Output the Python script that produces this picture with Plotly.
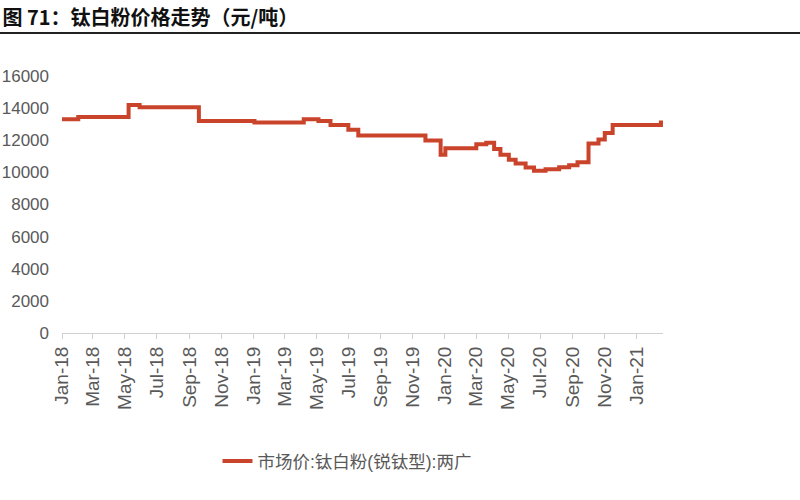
import plotly.graph_objects as go

# Change points of the step series (date, price in 元/吨)
dates = [
    "2018-01-01", "2018-02-01", "2018-05-08", "2018-05-29", "2018-09-19",
    "2019-01-03", "2019-04-07", "2019-05-05", "2019-05-28", "2019-07-01",
    "2019-07-20", "2019-11-25", "2019-12-24", "2020-01-02", "2020-03-01",
    "2020-03-20", "2020-04-04", "2020-04-16", "2020-05-02", "2020-05-15",
    "2020-06-03", "2020-06-19", "2020-07-11", "2020-08-06", "2020-08-25",
    "2020-09-10", "2020-10-01", "2020-10-20", "2020-11-01", "2020-11-16",
    "2021-02-16", "2021-02-20",
]
prices = [
    13300, 13450, 14200, 14050, 13200,
    13100, 13300, 13200, 12950, 12650,
    12300, 11980, 11100, 11500, 11750,
    11850, 11450, 11100, 10780, 10560,
    10300, 10100, 10200, 10320, 10440,
    10630, 11800, 12050, 12450, 12950,
    13100, 13150,
]
series_name = "市场价:钛白粉(锐钛型):两广"
title_text = "图 71：钛白粉价格走势（元/吨）"
y_ticks = [0, 2000, 4000, 6000, 8000, 10000, 12000, 14000, 16000]
y_tick_text = [str(v) for v in y_ticks]

L, R, T, B = 62, 137, 76, 167
W, H = 800, 500
pw, ph = W - L - R, H - T - B

fig = go.Figure()
fig.add_trace(go.Scatter(
    x=dates, y=prices, mode="lines", name=series_name,
    line=dict(color="#C9442A", width=4, shape="hv"),
))

fig.update_layout(
    width=W, height=H,
    margin=dict(l=L, r=R, t=T, b=B, autoexpand=False),
    paper_bgcolor="white", plot_bgcolor="white",
    title=dict(
        text=title_text, xref="container", yref="container",
        x=0.003, y=1 - 18 / H, xanchor="left", yanchor="middle",
        font=dict(family="Noto Sans CJK SC", size=20, color="#111111", weight="bold"),
    ),
    showlegend=True,
    legend=dict(
        orientation="h", x=(347 - L) / pw, y=(T + ph - 461) / ph,
        xanchor="center", yanchor="middle",
        font=dict(family="Liberation Sans, Noto Sans CJK SC", size=17.5, color="#595959"),
        bgcolor="rgba(0,0,0,0)",
    ),
    xaxis=dict(
        type="date", range=["2018-01-01", "2021-02-20"], automargin=False,
        tick0="2018-01-01", dtick="M2", tickformat="%b-%y",
        tickangle=-90, showgrid=False, zeroline=False,
        showline=True, linecolor="#D0D0D0", linewidth=1,
        ticks="outside", ticklen=5, tickcolor="#D0D0D0",
        tickfont=dict(family="Liberation Sans", size=19, color="#595959"),
    ),
    yaxis=dict(
        range=[0, 16000], tickvals=y_ticks, ticktext=y_tick_text,
        automargin=False, showgrid=False, zeroline=False,
        showline=False, ticks="", ticklabelstandoff=12,
        tickfont=dict(family="Liberation Sans", size=17, color="#595959"),
    ),
    shapes=[dict(
        type="line", xref="paper", yref="paper",
        x0=(0 - L) / pw, x1=(W - L) / pw,
        y0=(T + ph - 33) / ph, y1=(T + ph - 33) / ph,
        line=dict(color="#222222", width=2),
    )],
)

fig.write_html("out.html", config={"displayModeBar": False},
               post_script="document.body.style.margin='0';")
